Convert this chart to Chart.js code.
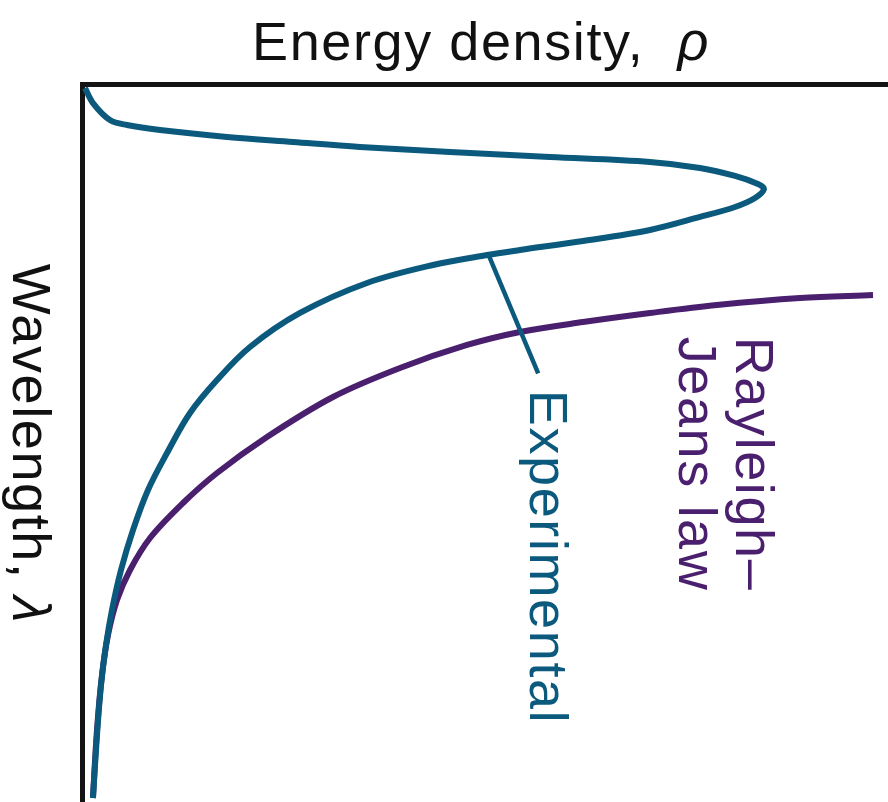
<!DOCTYPE html>
<html>
<head>
<meta charset="utf-8">
<script src="https://cdn.jsdelivr.net/npm/chart.js@4/dist/chart.umd.min.js"></script>
<style>
  html, body { margin: 0; padding: 0; background: #fff; }
  #wrap { width: 888px; height: 802px; position: relative; }
</style>
</head>
<body>
<div id="wrap"><canvas id="chart"></canvas></div>
<script>
// energy density (x) and wavelength (y, grows downward), arbitrary units 0-100
const expX = [0.37, 1.36, 3.47, 5.58, 9.68, 17.99, 26.18, 34.49, 45.66, 58.06, 70.47, 76.67,
              81.02, 83.87, 84.62, 83.50, 81.02, 76.67, 70.47, 62.16, 54.34, 50.25, 43.55,
              35.36, 27.05, 20.84, 16.75, 13.40, 10.55, 8.19, 6.33, 4.84, 3.72, 2.98, 2.36,
              1.86, 1.36];
const expY = [0.56, 2.65, 5.01, 5.71, 6.41, 7.38, 8.08, 8.77, 9.47, 10.17, 10.86, 11.70,
              12.81, 13.93, 14.62, 15.88, 17.13, 18.52, 20.33, 21.87, 23.12, 23.82, 25.21,
              27.72, 31.89, 36.63, 41.23, 45.82, 51.39, 56.55, 62.12, 67.69, 73.26, 78.13,
              83.70, 90.67, 99.44];

const rjX = [98.14, 89.08, 78.78, 70.47, 62.16, 54.34, 47.77, 39.45, 31.14, 22.95, 16.75,
             12.53, 8.44, 5.96, 4.34, 3.23, 2.48, 1.86, 1.36];
const rjY = [29.39, 29.81, 30.78, 31.89, 33.15, 34.54, 36.35, 39.55, 43.59, 49.16, 54.18,
             58.36, 63.23, 67.69, 71.87, 76.74, 82.31, 89.97, 99.44];

const leaderX = [50.4, 56.6];
const leaderY = [23.7, 40.3];

const xTitle = "Energy density,  ";
const xSymbol = "ρ";
const yTitle = "Wavelength, ";
const ySymbol = "λ";
const expLabel = ["Experimental"];
const rjLabel = ["Rayleigh–", "Jeans law"];

const TEAL = "#0b5a7e";
const PURPLE = "#4a1f6e";
const FONT = '"Liberation Sans", Arial, sans-serif';
const SIZE = 54;
const SPACING = "1.6px";

function toPoints(xs, ys) {
    return xs.map((x, i) => ({ x, y: ys[i] }));
}

// text turned 90deg clockwise, baseline on the left side
function drawDown(ctx, lines, px, py, color, lineGap) {
    ctx.save();
    ctx.fillStyle = color;
    ctx.font = `${SIZE}px ${FONT}`;
    ctx.letterSpacing = SPACING;
    ctx.textBaseline = "alphabetic";
    ctx.textAlign = "left";
    lines.forEach((t, i) => {
        ctx.save();
        ctx.translate(px - i * lineGap, py);
        ctx.rotate(Math.PI / 2);
        ctx.fillText(t, 0, 0);
        ctx.restore();
    });
    ctx.restore();
}

const textPlugin = {
    id: "rotatedText",
    afterDatasetsDraw(chart) {
        const { ctx, chartArea, scales: { x, y } } = chart;
        const plain = `${SIZE}px ${FONT}`;
        const ital = `italic ${SIZE}px ${FONT}`;

        // top title
        ctx.save();
        ctx.fillStyle = "#111";
        ctx.letterSpacing = SPACING;
        ctx.textBaseline = "alphabetic";
        ctx.font = plain;
        const w1 = ctx.measureText(xTitle).width;
        ctx.font = ital;
        const w2 = ctx.measureText(xSymbol).width;
        const sx = (chartArea.left + chartArea.right) / 2 - 4 - (w1 + w2) / 2;
        ctx.font = plain;
        ctx.fillText(xTitle, sx, 60);
        ctx.font = ital;
        ctx.fillText(xSymbol, sx + w1, 60);
        ctx.restore();

        // left title, reading downward
        ctx.save();
        ctx.fillStyle = "#111";
        ctx.letterSpacing = SPACING;
        ctx.textBaseline = "alphabetic";
        ctx.font = plain;
        const h1 = ctx.measureText(yTitle).width;
        ctx.font = ital;
        const h2 = ctx.measureText(ySymbol).width;
        ctx.translate(13, (chartArea.top + chartArea.bottom) / 2 + 1 - (h1 + h2) / 2);
        ctx.rotate(Math.PI / 2);
        ctx.font = plain;
        ctx.fillText(yTitle, 0, 0);
        ctx.font = ital;
        ctx.fillText(ySymbol, h1, 0);
        ctx.restore();

        drawDown(ctx, expLabel, x.getPixelForValue(55.6), y.getPixelForValue(42.6), TEAL, 0);
        drawDown(ctx, rjLabel, x.getPixelForValue(81.2), y.getPixelForValue(35.2), PURPLE, 57);
    }
};

function lineSet(data, color, width) {
    return {
        data,
        borderColor: color,
        borderWidth: width,
        pointRadius: 0,
        showLine: true,
        fill: false,
        tension: 0.35,
    };
}

new Chart(document.getElementById("chart"), {
    type: "scatter",
    data: {
        datasets: [
            lineSet(toPoints(expX, expY), TEAL, 6),
            { ...lineSet(toPoints(leaderX, leaderY), TEAL, 4.5), tension: 0 },
            lineSet(toPoints(rjX, rjY), PURPLE, 6),
        ],
    },
    options: {
        responsive: true,
        maintainAspectRatio: false,
        animation: false,
        layout: { padding: { top: 84, left: 82, right: 0, bottom: 0 } },
        plugins: { legend: { display: false }, tooltip: { enabled: false } },
        scales: {
            x: {
                type: "linear",
                position: "top",
                min: 0, max: 100,
                grid: { display: false, drawTicks: false },
                ticks: { display: false },
                border: { display: true, color: "#141414", width: 5 },
            },
            y: {
                type: "linear",
                reverse: true,
                min: 0, max: 100,
                grid: { display: false, drawTicks: false },
                ticks: { display: false },
                border: { display: true, color: "#141414", width: 5 },
            },
        },
    },
    plugins: [textPlugin],
});
</script>
</body>
</html>
